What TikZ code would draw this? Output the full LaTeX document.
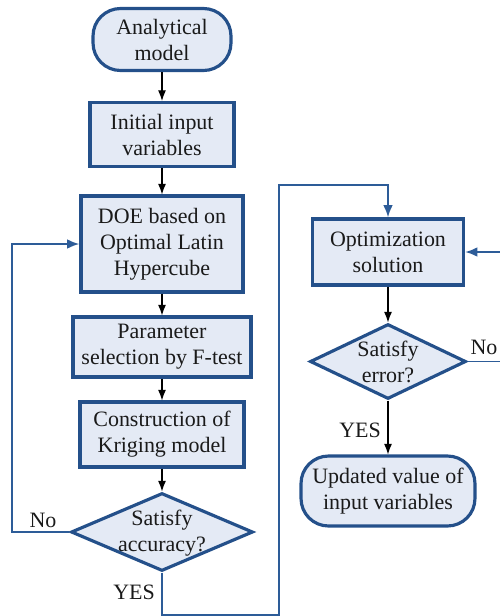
\documentclass[tikz,border=0pt]{standalone}
\usepackage{fontspec}
\setmainfont{Liberation Serif}
\usetikzlibrary{shapes.geometric,arrows.meta}
\definecolor{bdr}{HTML}{24508A}
\definecolor{fillc}{HTML}{E4EAF5}
\definecolor{loopc}{HTML}{2D5C98}
\definecolor{txtc}{HTML}{1A1A1A}
\begin{document}
\begin{tikzpicture}[x=0.02cm,y=-0.02cm,
  font=\rmfamily\fontsize{12.5}{14.8}\selectfont, text=txtc,
  base/.style={draw=bdr, fill=fillc, line width=1.8pt, align=center, inner sep=0pt},
  procbox/.style={base, rectangle},
  termbox/.style={base, rectangle, rounded corners=0.55cm},
  decbox/.style={base, diamond},
  flow/.style={draw=black, line width=0.6pt, -{Latex[length=6pt,width=4.5pt]}},
  loopline/.style={draw=loopc, line width=1.1pt, -{Latex[length=7pt,width=5.5pt]}},
  lbl/.style={inner sep=0pt, align=center}
]
\useasboundingbox (0,0) rectangle (500,616);
% left column
\node[termbox, minimum width=2.76cm, minimum height=1.24cm] (am) at (162,39.5) {Analytical\\model};
\node[procbox, minimum width=2.88cm, minimum height=1.28cm] (iv) at (162,134.5) {Initial input\\variables};
\node[procbox, minimum width=3.24cm, minimum height=1.92cm] (doe) at (162,244) {DOE based on\\Optimal Latin\\Hypercube};
\node[procbox, minimum width=3.56cm, minimum height=1.20cm] (ps) at (162,347) {Parameter\\selection by F-test};
\node[procbox, minimum width=3.28cm, minimum height=1.30cm] (km) at (162,434.5) {Construction of\\Kriging model};
\node[decbox, minimum width=3.64cm, minimum height=1.56cm] (acc) at (162,532) {};
\node[lbl] (acct) at (162,533) {Satisfy\\accuracy?};
% right column
\node[procbox, minimum width=3.02cm, minimum height=1.32cm] (opt) at (388,252) {Optimization\\solution};
\node[decbox, minimum width=3.12cm, minimum height=1.50cm] (err) at (388,361.5) {};
\node[lbl] (errt) at (388,362) {Satisfy\\error?};
\node[termbox, minimum width=3.48cm, minimum height=1.40cm] (upd) at (388,491) {Updated value of\\input variables};
% flow arrows
\draw[flow] (am) -- (iv);
\draw[flow] (iv) -- (doe);
\draw[flow] (doe) -- (ps);
\draw[flow] (ps) -- (km);
\draw[flow] (km) -- (acc.north);
\draw[flow] (opt) -- (err.north);
\draw[flow] (err.south) -- (upd);
% loops
\coordinate (lf) at (12,532);
\draw[loopline] (acc.west) -- (lf) |- (doe.west);
\coordinate (b1) at (279,615);
\coordinate (b2) at (279,185);
\draw[loopline] (acc.south) |- (b1) -- (b2) -| (opt.north);
\coordinate (r1) at (506,361.5);
\draw[loopline] (err.east) -- (r1) |- (opt.east);
% labels
\node[lbl] (no1) at (43,520) {No};
\node[lbl] (yes1) at (134,592) {YES};
\node[lbl] (no2) at (484,347) {No};
\node[lbl] (yes2) at (360,430) {YES};
\end{tikzpicture}
\end{document}
